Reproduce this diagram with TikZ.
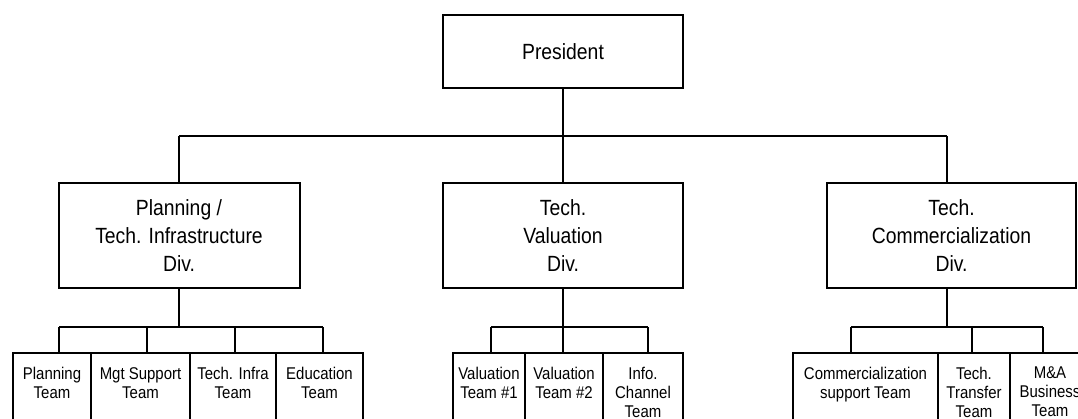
\documentclass[tikz,border=0pt]{standalone}
\usepackage{fontspec}
\setmainfont{Liberation Sans}[FakeStretch=0.88]
\begin{document}
\begin{tikzpicture}[x=1pt,y=-1pt,
  link/.style={line width=2pt},
  bigbox/.style={draw,line width=2pt,rectangle,inner sep=0pt,align=center,
    font=\fontsize{22}{28}\selectfont},
  teambox/.style={draw,line width=2pt,rectangle,inner sep=0pt,anchor=north west},
  teamtext/.style={inner sep=0pt,anchor=north,align=center,
    font=\fontsize{17}{19}\selectfont}]
\useasboundingbox (0,0) rectangle (1078,418);
\clip (0,0) rectangle (1078,418);

% top level and division boxes
\node[bigbox,minimum width=240pt,minimum height=73pt] (pres) at (563,51.5) {President};
\node[bigbox,minimum width=241pt,minimum height=105pt] (pdiv) at (179,235.5)
  {Planning /\\Tech. Infrastructure\\Div.};
\node[bigbox,minimum width=240pt,minimum height=105pt] (vdiv) at (563,235.5)
  {Tech.\\Valuation\\Div.};
\node[bigbox,minimum width=249pt,minimum height=105pt] (cdiv) at (951.5,235.5)
  {Tech.\\Commercialization\\Div.};

% bus from the president to the divisions
\coordinate (tb1) at (179,136);
\coordinate (tb3) at (947,136);
\draw[link] (pres.south) -- (pres.south |- tb1);
\draw[link] (tb1) -- (tb3);
\draw[link] (tb1) -- (pdiv.north);
\draw[link] (vdiv.north |- tb1) -- (vdiv.north);
\draw[link] (tb3) -- (tb3 |- cdiv.north);

% team boxes
\node[teambox,minimum width=78pt,minimum height=90pt]  (pt1) at (12,352) {};
\node[teambox,minimum width=99pt,minimum height=90pt]  (pt2) at (90,352) {};
\node[teambox,minimum width=86pt,minimum height=90pt]  (pt3) at (189,352) {};
\node[teambox,minimum width=87pt,minimum height=90pt]  (pt4) at (275,352) {};
\node[teambox,minimum width=72pt,minimum height=90pt]  (vt1) at (452,352) {};
\node[teambox,minimum width=78pt,minimum height=90pt]  (vt2) at (524,352) {};
\node[teambox,minimum width=80pt,minimum height=90pt]  (vt3) at (602,352) {};
\node[teambox,minimum width=145pt,minimum height=90pt] (ct1) at (792,352) {};
\node[teambox,minimum width=72pt,minimum height=90pt]  (ct2) at (937,352) {};
\node[teambox,minimum width=80pt,minimum height=90pt]  (ct3) at (1009,352) {};

\node[teamtext] (pt1l) at ([yshift=-15pt]pt1.north) {Planning\\Team};
\node[teamtext] (pt2l) at ([yshift=-15pt]pt2.north) {Mgt Support\\Team};
\node[teamtext] (pt3l) at ([yshift=-15pt]pt3.north) {Tech. Infra\\Team};
\node[teamtext] (pt4l) at ([yshift=-15pt]pt4.north) {Education\\Team};
\node[teamtext] (vt1l) at ([yshift=-15pt]vt1.north) {Valuation\\Team \#1};
\node[teamtext] (vt2l) at ([yshift=-15pt]vt2.north) {Valuation\\Team \#2};
\node[teamtext] (vt3l) at ([yshift=-15pt]vt3.north) {Info.\\Channel\\Team};
\node[teamtext] (ct1l) at ([yshift=-15pt]ct1.north) {Commercialization\\support Team};
\node[teamtext] (ct2l) at ([yshift=-15pt]ct2.north) {Tech.\\Transfer\\Team};
\node[teamtext] (ct3l) at ([yshift=-15pt]ct3.north) {M\&A\\Business\\Team};

% planning division bus
\coordinate (pd1) at (59,327);
\coordinate (pd2) at (147,327);
\coordinate (pd3) at (235,327);
\coordinate (pd4) at (323,327);
\draw[link] (pdiv.south) -- (pdiv.south |- pd1);
\draw[link] (pd1) -- (pd4);
\draw[link] (pd1) -- (pd1 |- pt1.north);
\draw[link] (pd2) -- (pd2 |- pt2.north);
\draw[link] (pd3) -- (pd3 |- pt3.north);
\draw[link] (pd4) -- (pd4 |- pt4.north);

% valuation division bus
\coordinate (vd1) at (491,327);
\coordinate (vd2) at (563,327);
\coordinate (vd3) at (648,327);
\draw[link] (vdiv.south) -- (vdiv.south |- vd1);
\draw[link] (vd1) -- (vd3);
\draw[link] (vd1) -- (vd1 |- vt1.north);
\draw[link] (vd2) -- (vd2 |- vt2.north);
\draw[link] (vd3) -- (vd3 |- vt3.north);

% commercialization division bus
\coordinate (cd1) at (851,327);
\coordinate (cd2) at (972,327);
\coordinate (cd3) at (1043,327);
\draw[link] (tb3 |- cdiv.south) -- (tb3 |- cd1);
\draw[link] (cd1) -- (cd3);
\draw[link] (cd1) -- (cd1 |- ct1.north);
\draw[link] (cd2) -- (cd2 |- ct2.north);
\draw[link] (cd3) -- (cd3 |- ct3.north);
\end{tikzpicture}
\end{document}
